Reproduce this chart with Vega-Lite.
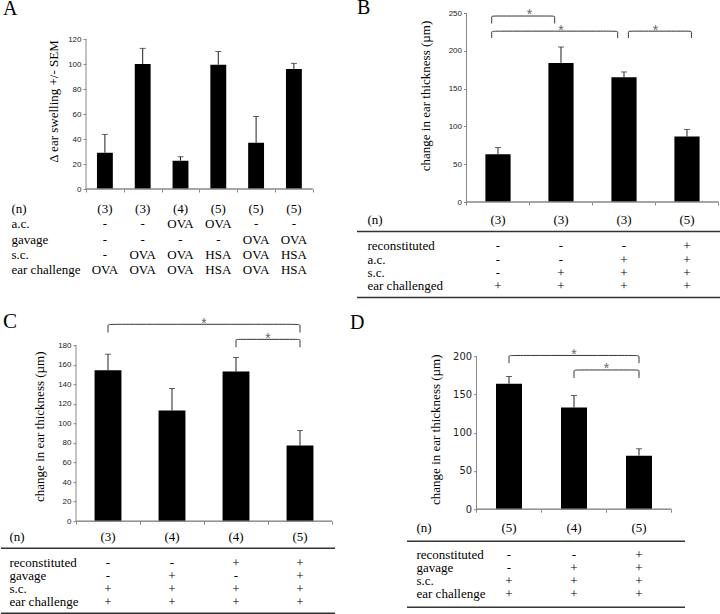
{
"$schema": "https://vega.github.io/schema/vega-lite/v6.json",
"background": "white",
"padding": {"left": 0, "top": -3.0, "right": 0, "bottom": 0},
"spacing": 4.2,
"config": {"view": {"stroke": null}, "axis": {"grid": false}, "font": "Liberation Sans"},
"datasets": {
"barsA": [{"g":"1","mean":29,"hi":43.7},{"g":"2","mean":100,"hi":112.5},{"g":"3","mean":22.6,"hi":25.8},{"g":"4","mean":99.4,"hi":110},{"g":"5","mean":37,"hi":58},{"g":"6","mean":96,"hi":100.5}],
"barsB": [{"g":"1","mean":63.3,"hi":72},{"g":"2","mean":184,"hi":205},{"g":"3","mean":165,"hi":172},{"g":"4","mean":86.5,"hi":96}],
"barsC": [{"g":"1","mean":154.4,"hi":170.8},{"g":"2","mean":113.2,"hi":135.7},{"g":"3","mean":153,"hi":167.4},{"g":"4","mean":77.4,"hi":92.7}],
"barsD": [{"g":"1","mean":164,"hi":173.5},{"g":"2","mean":133,"hi":148.7},{"g":"3","mean":70,"hi":79}],
"brB1": [{"id":1,"g":"1","y":236,"k":0},{"id":1,"g":"1","y":246,"k":1},{"id":1,"g":"1","y":246,"k":2},{"id":1,"g":"2","y":246,"k":3},{"id":1,"g":"2","y":246,"k":4},{"id":1,"g":"2","y":236,"k":5},
{"id":2,"g":"1","y":217,"k":0},{"id":2,"g":"1","y":226,"k":1},{"id":2,"g":"1","y":226,"k":2},{"id":2,"g":"3","y":226,"k":3},{"id":2,"g":"3","y":226,"k":4},{"id":2,"g":"3","y":217,"k":5}],
"brB2": [{"id":3,"g":"3","y":217,"k":0},{"id":3,"g":"3","y":226,"k":1},{"id":3,"g":"3","y":226,"k":2},{"id":3,"g":"4","y":226,"k":3},{"id":3,"g":"4","y":226,"k":4},{"id":3,"g":"4","y":217,"k":5}],
"brC": [{"id":1,"g":"1","y":193,"k":0},{"id":1,"g":"1","y":201.4,"k":1},{"id":1,"g":"1","y":201.4,"k":2},{"id":1,"g":"4","y":201.4,"k":3},{"id":1,"g":"4","y":201.4,"k":4},{"id":1,"g":"4","y":193,"k":5},
{"id":2,"g":"3","y":178,"k":0},{"id":2,"g":"3","y":186,"k":1},{"id":2,"g":"3","y":186,"k":2},{"id":2,"g":"4","y":186,"k":3},{"id":2,"g":"4","y":186,"k":4},{"id":2,"g":"4","y":178,"k":5}],
"brD": [{"id":1,"g":"1","y":191,"k":0},{"id":1,"g":"1","y":201,"k":1},{"id":1,"g":"1","y":201,"k":2},{"id":1,"g":"3","y":201,"k":3},{"id":1,"g":"3","y":201,"k":4},{"id":1,"g":"3","y":191,"k":5},
{"id":2,"g":"2","y":171.5,"k":0},{"id":2,"g":"2","y":182,"k":1},{"id":2,"g":"2","y":182,"k":2},{"id":2,"g":"3","y":182,"k":3},{"id":2,"g":"3","y":182,"k":4},{"id":2,"g":"3","y":171.5,"k":5}],
"stB": [{"g":"2","pos":"edge","y":252.5},{"g":"2","pos":"mid","y":231.5},{"g":"4","pos":"edge","y":231.5}],
"stC": [{"g":"3","pos":"edge","y":205.5},{"g":"4","pos":"edge","y":190}],
"stD": [{"g":"2","pos":"mid","y":206.5},{"g":"3","pos":"edge","y":188}],
"rules": [{"row":"gap"},{"row":"end"}],
"tabA": [
{"row":"(n)","g":"1","t":"(3)"},{"row":"(n)","g":"2","t":"(3)"},{"row":"(n)","g":"3","t":"(4)"},{"row":"(n)","g":"4","t":"(5)"},{"row":"(n)","g":"5","t":"(5)"},{"row":"(n)","g":"6","t":"(5)"},
{"row":"a.c.","g":"1","t":"-"},{"row":"a.c.","g":"2","t":"-"},{"row":"a.c.","g":"3","t":"OVA"},{"row":"a.c.","g":"4","t":"OVA"},{"row":"a.c.","g":"5","t":"-"},{"row":"a.c.","g":"6","t":"-"},
{"row":"gavage","g":"1","t":"-"},{"row":"gavage","g":"2","t":"-"},{"row":"gavage","g":"3","t":"-"},{"row":"gavage","g":"4","t":"-"},{"row":"gavage","g":"5","t":"OVA"},{"row":"gavage","g":"6","t":"OVA"},
{"row":"s.c.","g":"1","t":"-"},{"row":"s.c.","g":"2","t":"OVA"},{"row":"s.c.","g":"3","t":"OVA"},{"row":"s.c.","g":"4","t":"HSA"},{"row":"s.c.","g":"5","t":"OVA"},{"row":"s.c.","g":"6","t":"HSA"},
{"row":"ear challenge","g":"1","t":"OVA"},{"row":"ear challenge","g":"2","t":"OVA"},{"row":"ear challenge","g":"3","t":"OVA"},{"row":"ear challenge","g":"4","t":"HSA"},{"row":"ear challenge","g":"5","t":"OVA"},{"row":"ear challenge","g":"6","t":"HSA"}],
"tabB": [
{"row":"(n)","g":"1","t":"(3)"},{"row":"(n)","g":"2","t":"(3)"},{"row":"(n)","g":"3","t":"(3)"},{"row":"(n)","g":"4","t":"(5)"},
{"row":"reconstituted","g":"1","t":"-"},{"row":"reconstituted","g":"2","t":"-"},{"row":"reconstituted","g":"3","t":"-"},{"row":"reconstituted","g":"4","t":"+"},
{"row":"a.c.","g":"1","t":"-"},{"row":"a.c.","g":"2","t":"-"},{"row":"a.c.","g":"3","t":"+"},{"row":"a.c.","g":"4","t":"+"},
{"row":"s.c.","g":"1","t":"-"},{"row":"s.c.","g":"2","t":"+"},{"row":"s.c.","g":"3","t":"+"},{"row":"s.c.","g":"4","t":"+"},
{"row":"ear challenged","g":"1","t":"+"},{"row":"ear challenged","g":"2","t":"+"},{"row":"ear challenged","g":"3","t":"+"},{"row":"ear challenged","g":"4","t":"+"}],
"tabC": [
{"row":"(n)","g":"1","t":"(3)"},{"row":"(n)","g":"2","t":"(4)"},{"row":"(n)","g":"3","t":"(4)"},{"row":"(n)","g":"4","t":"(5)"},
{"row":"reconstituted","g":"1","t":"-"},{"row":"reconstituted","g":"2","t":"-"},{"row":"reconstituted","g":"3","t":"+"},{"row":"reconstituted","g":"4","t":"+"},
{"row":"gavage","g":"1","t":"-"},{"row":"gavage","g":"2","t":"+"},{"row":"gavage","g":"3","t":"-"},{"row":"gavage","g":"4","t":"+"},
{"row":"s.c.","g":"1","t":"+"},{"row":"s.c.","g":"2","t":"+"},{"row":"s.c.","g":"3","t":"+"},{"row":"s.c.","g":"4","t":"+"},
{"row":"ear challenge","g":"1","t":"+"},{"row":"ear challenge","g":"2","t":"+"},{"row":"ear challenge","g":"3","t":"+"},{"row":"ear challenge","g":"4","t":"+"}],
"tabD": [
{"row":"(n)","g":"1","t":"(5)"},{"row":"(n)","g":"2","t":"(4)"},{"row":"(n)","g":"3","t":"(5)"},
{"row":"reconstituted","g":"1","t":"-"},{"row":"reconstituted","g":"2","t":"-"},{"row":"reconstituted","g":"3","t":"+"},
{"row":"gavage","g":"1","t":"-"},{"row":"gavage","g":"2","t":"+"},{"row":"gavage","g":"3","t":"+"},
{"row":"s.c.","g":"1","t":"+"},{"row":"s.c.","g":"2","t":"+"},{"row":"s.c.","g":"3","t":"+"},
{"row":"ear challenge","g":"1","t":"+"},{"row":"ear challenge","g":"2","t":"+"},{"row":"ear challenge","g":"3","t":"+"}]
},
"vconcat": [
{"hconcat": [
 {"vconcat": [
  {"width": 320, "height": 176,
   "title": {"text": "A", "anchor": "start", "frame": "group", "font": "Liberation Serif", "fontSize": 20, "fontWeight": "normal", "color": "#000", "offset": 0, "baseline": "alphabetic", "dx": 2, "dy": 22.0},
   "layer": [
    {"data": {"name": "barsA"}, "mark": {"type": "bar", "width": {"band": 0.42}, "color": "#000"},
     "encoding": {
      "x": {"field": "g", "type": "nominal", "scale": {"type": "band", "domain": ["0","1","2","3","4","5","6"], "paddingInner": 0, "paddingOuter": 0.7328, "align": 0.852}, "axis": {"values": ["1","2","3","4","5","6"], "title": null, "labels": false, "domain": false, "ticks": true, "tickBand": "extent", "tickSize": 3, "tickColor": "#888", "grid": false}},
      "y": {"field": "mean", "type": "quantitative", "scale": {"domain": [0, 140.8], "nice": false}, "axis": {"values": [0,20,40,60,80,100,120], "tickCount": 30, "domain": false, "ticks": true, "tickSize": 3, "tickColor": "#888", "labelFont": "Liberation Sans", "labelFontSize": 8, "labelColor": "#222", "labelPadding": 2, "labelFlush": false, "labelOverlap": false, "offset": -85, "grid": false, "title": "Δ ear swelling +/- SEM", "titleFont": "Liberation Serif", "titleFontSize": 13, "titleFontWeight": "normal", "titleColor": "#000", "titleX": -33, "titleY": 88, "titleAngle": -90, "titleAlign": "center", "titleBaseline": "middle"}}}},
    {"data": {"name": "barsA"}, "mark": {"type": "rule", "color": "#222"},
     "encoding": {"x": {"field": "g", "type": "nominal", "scale": {"type": "band", "domain": ["0","1","2","3","4","5","6"], "paddingInner": 0, "paddingOuter": 0.7328, "align": 0.852}}, "y": {"field": "mean", "type": "quantitative", "scale": {"domain": [0, 140.8], "nice": false}}, "y2": {"field": "hi"}}},
    {"data": {"name": "barsA"}, "mark": {"type": "tick", "color": "#222", "size": 6, "thickness": 1},
     "encoding": {"x": {"field": "g", "type": "nominal", "scale": {"type": "band", "domain": ["0","1","2","3","4","5","6"], "paddingInner": 0, "paddingOuter": 0.7328, "align": 0.852}}, "y": {"field": "hi", "type": "quantitative", "scale": {"domain": [0, 140.8], "nice": false}}}},
    {"data": {"name": "barsA"}, "mark": {"type": "bar", "filled": false, "color": "#888", "strokeWidth": 1},
     "encoding": {"x": {"field": "g", "type": "nominal", "scale": {"type": "band", "domain": ["0","1","2","3","4","5","6"], "paddingInner": 0, "paddingOuter": 0.7328, "align": 0.852}}, "y": {"datum": 0, "type": "quantitative", "scale": {"domain": [0, 140.8], "nice": false}}, "y2": {"datum": 0}}},
    {"data": {"values": [{}]}, "mark": {"type": "rule", "color": "#888"},
     "encoding": {"x": {"datum": "1", "type": "nominal", "bandPosition": 0, "scale": {"type": "band", "domain": ["0","1","2","3","4","5","6"], "paddingInner": 0, "paddingOuter": 0.7328, "align": 0.852}}, "y": {"datum": 0, "type": "quantitative", "scale": {"domain": [0, 140.8], "nice": false}}, "y2": {"datum": 120}}}
   ]},
  {"width": 320, "height": 77, "data": {"name": "tabA"},
   "mark": {"type": "text", "font": "Liberation Serif", "fontSize": 13, "color": "#000"},
   "encoding": {
    "x": {"field": "g", "type": "nominal", "scale": {"type": "band", "domain": ["0","1","2","3","4","5","6"], "paddingInner": 0, "paddingOuter": 0.7328, "align": 0.852}, "axis": null},
    "y": {"field": "row", "type": "nominal", "scale": {"type": "band", "domain": ["(n)","a.c.","gavage","s.c.","ear challenge"], "paddingInner": 0, "paddingOuter": 0}, "axis": {"title": null, "domain": false, "ticks": false, "labelAlign": "left", "labelPadding": -10, "labelFont": "Liberation Serif", "labelFontSize": 13, "labelColor": "#000", "labelBaseline": "middle", "labelOverlap": false}},
    "text": {"field": "t"}}}
 ], "spacing": 12, "bounds": "flush"},
 {"vconcat": [
  {"width": 365, "height": 189,
   "title": {"text": "B", "anchor": "start", "frame": "group", "font": "Liberation Serif", "fontSize": 20, "fontWeight": "normal", "color": "#000", "offset": 0, "baseline": "alphabetic", "dx": 0, "dy": 25.6},
   "layer": [
    {"data": {"name": "barsB"}, "mark": {"type": "bar", "width": {"band": 0.4}, "color": "#000"},
     "encoding": {
      "x": {"field": "g", "type": "nominal", "scale": {"type": "band", "domain": ["1","2","3","4"], "paddingInner": 0, "paddingOuter": 0.8968, "align": 0.969}, "axis": {"title": null, "labels": false, "domain": false, "ticks": true, "tickBand": "extent", "tickSize": 3, "tickColor": "#888", "grid": false}},
      "y": {"field": "mean", "type": "quantitative", "scale": {"domain": [0, 250], "nice": false}, "axis": {"values": [0,50,100,150,200,250], "tickCount": 30, "domain": false, "ticks": true, "tickSize": 3, "tickColor": "#888", "labelFont": "Liberation Sans", "labelFontSize": 8, "labelColor": "#222", "labelPadding": 2, "labelFlush": false, "labelOverlap": false, "offset": -109.5, "grid": false, "title": "change in ear thickness (µm)", "titleFont": "Liberation Serif", "titleFontSize": 13, "titleFontWeight": "normal", "titleColor": "#000", "titleX": -41.5, "titleY": 82.5, "titleAngle": -90, "titleAlign": "center", "titleBaseline": "middle"}}}},
    {"data": {"name": "barsB"}, "mark": {"type": "rule", "color": "#222"},
     "encoding": {"x": {"field": "g", "type": "nominal", "scale": {"type": "band", "domain": ["1","2","3","4"], "paddingInner": 0, "paddingOuter": 0.8968, "align": 0.969}}, "y": {"field": "mean", "type": "quantitative", "scale": {"domain": [0, 250], "nice": false}}, "y2": {"field": "hi"}}},
    {"data": {"name": "barsB"}, "mark": {"type": "tick", "color": "#222", "size": 6, "thickness": 1},
     "encoding": {"x": {"field": "g", "type": "nominal", "scale": {"type": "band", "domain": ["1","2","3","4"], "paddingInner": 0, "paddingOuter": 0.8968, "align": 0.969}}, "y": {"field": "hi", "type": "quantitative", "scale": {"domain": [0, 250], "nice": false}}}},
    {"data": {"name": "barsB"}, "mark": {"type": "bar", "filled": false, "color": "#888", "strokeWidth": 1},
     "encoding": {"x": {"field": "g", "type": "nominal", "scale": {"type": "band", "domain": ["1","2","3","4"], "paddingInner": 0, "paddingOuter": 0.8968, "align": 0.969}}, "y": {"datum": 0, "type": "quantitative", "scale": {"domain": [0, 250], "nice": false}}, "y2": {"datum": 0}}},
    {"data": {"values": [{}]}, "mark": {"type": "rule", "color": "#888"},
     "encoding": {"x": {"datum": "1", "type": "nominal", "bandPosition": 0, "scale": {"type": "band", "domain": ["1","2","3","4"], "paddingInner": 0, "paddingOuter": 0.8968, "align": 0.969}}, "y": {"datum": 0, "type": "quantitative", "scale": {"domain": [0, 250], "nice": false}}, "y2": {"datum": 250}}},
    {"data": {"name": "brB1"}, "mark": {"type": "line", "interpolate": "basis", "color": "#333", "strokeWidth": 1},
     "encoding": {"x": {"field": "g", "type": "nominal", "bandPosition": 0.4, "scale": {"type": "band", "domain": ["1","2","3","4"], "paddingInner": 0, "paddingOuter": 0.8968, "align": 0.969}}, "y": {"field": "y", "type": "quantitative", "scale": {"domain": [0, 250], "nice": false}}, "detail": {"field": "id"}, "order": {"field": "k", "type": "quantitative"}}},
    {"data": {"name": "brB2"}, "mark": {"type": "line", "interpolate": "basis", "color": "#333", "strokeWidth": 1},
     "encoding": {"x": {"field": "g", "type": "nominal", "bandPosition": 0.57, "scale": {"type": "band", "domain": ["1","2","3","4"], "paddingInner": 0, "paddingOuter": 0.8968, "align": 0.969}}, "y": {"field": "y", "type": "quantitative", "scale": {"domain": [0, 250], "nice": false}}, "detail": {"field": "id"}, "order": {"field": "k", "type": "quantitative"}}},
    {"data": {"name": "stB"}, "transform": [{"filter": "datum.pos == 'mid'"}], "mark": {"type": "text", "text": "*", "font": "Liberation Sans", "fontSize": 14, "color": "#666", "baseline": "alphabetic", "dy": 8},
     "encoding": {"x": {"field": "g", "type": "nominal", "bandPosition": 0.5, "scale": {"type": "band", "domain": ["1","2","3","4"], "paddingInner": 0, "paddingOuter": 0.8968, "align": 0.969}}, "y": {"field": "y", "type": "quantitative", "scale": {"domain": [0, 250], "nice": false}}}},
    {"data": {"name": "stB"}, "transform": [{"filter": "datum.pos == 'edge'"}], "mark": {"type": "text", "text": "*", "font": "Liberation Sans", "fontSize": 14, "color": "#666", "baseline": "alphabetic", "dy": 8},
     "encoding": {"x": {"field": "g", "type": "nominal", "bandPosition": 0, "scale": {"type": "band", "domain": ["1","2","3","4"], "paddingInner": 0, "paddingOuter": 0.8968, "align": 0.969}}, "y": {"field": "y", "type": "quantitative", "scale": {"domain": [0, 250], "nice": false}}}}
   ]},
  {"width": 365, "height": 92.4,
   "layer": [
    {"data": {"name": "tabB"}, "mark": {"type": "text", "font": "Liberation Serif", "fontSize": 13, "color": "#000"},
     "encoding": {
      "x": {"field": "g", "type": "nominal", "scale": {"type": "band", "domain": ["1","2","3","4"], "paddingInner": 0, "paddingOuter": 0.8968, "align": 0.969}, "axis": null},
      "y": {"field": "row", "type": "nominal", "scale": {"type": "band", "domain": ["(n)","gap","reconstituted","a.c.","s.c.","ear challenged","end"], "paddingInner": 0, "paddingOuter": 0}, "axis": {"title": null, "domain": false, "ticks": false, "labelAlign": "left", "labelPadding": -10, "labelFont": "Liberation Serif", "labelFontSize": 13, "labelColor": "#000", "labelBaseline": "middle", "labelOverlap": false, "labelExpr": "datum.value == 'gap' || datum.value == 'end' ? '' : datum.value"}},
      "text": {"field": "t"}}},
    {"data": {"name": "rules"}, "mark": {"type": "rule", "color": "#333", "strokeWidth": 1.5},
     "encoding": {"y": {"field": "row", "type": "nominal", "bandPosition": 0.37, "scale": {"type": "band", "domain": ["(n)","gap","reconstituted","a.c.","s.c.","ear challenged","end"], "paddingInner": 0, "paddingOuter": 0}}}}
   ]}
 ], "spacing": 11.4, "bounds": "flush"}
], "spacing": 35},
{"hconcat": [
 {"vconcat": [
  {"width": 334, "height": 176,
   "title": {"text": "C", "anchor": "start", "frame": "group", "font": "Liberation Serif", "fontSize": 21, "fontWeight": "normal", "color": "#000", "offset": 0, "baseline": "alphabetic", "dx": 2, "dy": 31.9},
   "layer": [
    {"data": {"name": "barsC"}, "mark": {"type": "bar", "width": {"band": 0.42}, "color": "#000"},
     "encoding": {
      "x": {"field": "g", "type": "nominal", "scale": {"type": "band", "domain": ["1","2","3","4"], "paddingInner": 0, "paddingOuter": 0.6094, "align": 0.9615}, "axis": {"title": null, "labels": false, "domain": false, "ticks": true, "tickBand": "extent", "tickSize": 3, "tickColor": "#888", "grid": false}},
      "y": {"field": "mean", "type": "quantitative", "scale": {"domain": [0, 180], "nice": false}, "axis": {"values": [0,20,40,60,80,100,120,140,160,180], "tickCount": 30, "domain": false, "ticks": true, "tickSize": 3, "tickColor": "#888", "labelFont": "Liberation Sans", "labelFontSize": 8, "labelColor": "#222", "labelPadding": 2, "labelFlush": false, "labelOverlap": false, "offset": -75, "grid": false, "title": "change in ear thickness (µm)", "titleFont": "Liberation Serif", "titleFontSize": 13, "titleFontWeight": "normal", "titleColor": "#000", "titleX": -37, "titleY": 81, "titleAngle": -90, "titleAlign": "center", "titleBaseline": "middle"}}}},
    {"data": {"name": "barsC"}, "mark": {"type": "rule", "color": "#222"},
     "encoding": {"x": {"field": "g", "type": "nominal", "scale": {"type": "band", "domain": ["1","2","3","4"], "paddingInner": 0, "paddingOuter": 0.6094, "align": 0.9615}}, "y": {"field": "mean", "type": "quantitative", "scale": {"domain": [0, 180], "nice": false}}, "y2": {"field": "hi"}}},
    {"data": {"name": "barsC"}, "mark": {"type": "tick", "color": "#222", "size": 6, "thickness": 1},
     "encoding": {"x": {"field": "g", "type": "nominal", "scale": {"type": "band", "domain": ["1","2","3","4"], "paddingInner": 0, "paddingOuter": 0.6094, "align": 0.9615}}, "y": {"field": "hi", "type": "quantitative", "scale": {"domain": [0, 180], "nice": false}}}},
    {"data": {"name": "barsC"}, "mark": {"type": "bar", "filled": false, "color": "#888", "strokeWidth": 1},
     "encoding": {"x": {"field": "g", "type": "nominal", "scale": {"type": "band", "domain": ["1","2","3","4"], "paddingInner": 0, "paddingOuter": 0.6094, "align": 0.9615}}, "y": {"datum": 0, "type": "quantitative", "scale": {"domain": [0, 180], "nice": false}}, "y2": {"datum": 0}}},
    {"data": {"values": [{}]}, "mark": {"type": "rule", "color": "#888"},
     "encoding": {"x": {"datum": "1", "type": "nominal", "bandPosition": 0, "scale": {"type": "band", "domain": ["1","2","3","4"], "paddingInner": 0, "paddingOuter": 0.6094, "align": 0.9615}}, "y": {"datum": 0, "type": "quantitative", "scale": {"domain": [0, 180], "nice": false}}, "y2": {"datum": 180}}},
    {"data": {"name": "brC"}, "mark": {"type": "line", "interpolate": "basis", "color": "#333", "strokeWidth": 1},
     "encoding": {"x": {"field": "g", "type": "nominal", "bandPosition": 0.5, "scale": {"type": "band", "domain": ["1","2","3","4"], "paddingInner": 0, "paddingOuter": 0.6094, "align": 0.9615}}, "y": {"field": "y", "type": "quantitative", "scale": {"domain": [0, 180], "nice": false}}, "detail": {"field": "id"}, "order": {"field": "k", "type": "quantitative"}}},
    {"data": {"name": "stC"}, "mark": {"type": "text", "text": "*", "font": "Liberation Sans", "fontSize": 14, "color": "#666", "baseline": "alphabetic", "dy": 8},
     "encoding": {"x": {"field": "g", "type": "nominal", "bandPosition": 0, "scale": {"type": "band", "domain": ["1","2","3","4"], "paddingInner": 0, "paddingOuter": 0.6094, "align": 0.9615}}, "y": {"field": "y", "type": "quantitative", "scale": {"domain": [0, 180], "nice": false}}}}
   ]},
  {"width": 334, "height": 91,
   "layer": [
    {"data": {"name": "tabC"}, "mark": {"type": "text", "font": "Liberation Serif", "fontSize": 13, "color": "#000"},
     "encoding": {
      "x": {"field": "g", "type": "nominal", "scale": {"type": "band", "domain": ["1","2","3","4"], "paddingInner": 0, "paddingOuter": 0.6094, "align": 0.9615}, "axis": null},
      "y": {"field": "row", "type": "nominal", "scale": {"type": "band", "domain": ["(n)","gap","reconstituted","gavage","s.c.","ear challenge","end"], "paddingInner": 0, "paddingOuter": 0}, "axis": {"title": null, "domain": false, "ticks": false, "labelAlign": "left", "labelPadding": -8, "labelFont": "Liberation Serif", "labelFontSize": 13, "labelColor": "#000", "labelBaseline": "middle", "labelOverlap": false, "labelExpr": "datum.value == 'gap' || datum.value == 'end' ? '' : datum.value"}},
      "text": {"field": "t"}}},
    {"data": {"name": "rules"}, "mark": {"type": "rule", "color": "#333", "strokeWidth": 1.5},
     "encoding": {"y": {"field": "row", "type": "nominal", "bandPosition": 0.35, "scale": {"type": "band", "domain": ["(n)","gap","reconstituted","gavage","s.c.","ear challenge","end"], "paddingInner": 0, "paddingOuter": 0}}}}
   ]}
 ], "spacing": 9.5, "bounds": "flush"},
 {"vconcat": [
  {"width": 278, "height": 164,
   "title": {"text": "D", "anchor": "start", "frame": "group", "font": "Liberation Serif", "fontSize": 20, "fontWeight": "normal", "color": "#000", "offset": 0, "baseline": "alphabetic", "dx": -57, "dy": 4},
   "layer": [
    {"data": {"name": "barsD"}, "mark": {"type": "bar", "width": {"band": 0.4}, "color": "#000"},
     "encoding": {
      "x": {"field": "g", "type": "nominal", "scale": {"type": "band", "domain": ["1","2","3"], "paddingInner": 0, "paddingOuter": 0.6385, "align": 0.8373}, "axis": {"title": null, "labels": false, "domain": false, "ticks": true, "tickBand": "extent", "tickSize": 3, "tickColor": "#888", "grid": false}},
      "y": {"field": "mean", "type": "quantitative", "scale": {"domain": [0, 214.4], "nice": false}, "axis": {"values": [0,50,100,150,200], "tickCount": 30, "domain": false, "ticks": true, "tickSize": 3, "tickColor": "#888", "labelFont": "Liberation Sans Narrow, DejaVu Sans Condensed, sans-serif", "labelFontSize": 11, "labelColor": "#222", "labelPadding": 2, "labelFlush": false, "labelOverlap": false, "offset": -69.5, "grid": false, "title": "change in ear thickness (µm)", "titleFont": "Liberation Serif", "titleFontSize": 13, "titleFontWeight": "normal", "titleColor": "#000", "titleX": -41.5, "titleY": 84, "titleAngle": -90, "titleAlign": "center", "titleBaseline": "middle"}}}},
    {"data": {"name": "barsD"}, "mark": {"type": "rule", "color": "#222"},
     "encoding": {"x": {"field": "g", "type": "nominal", "scale": {"type": "band", "domain": ["1","2","3"], "paddingInner": 0, "paddingOuter": 0.6385, "align": 0.8373}}, "y": {"field": "mean", "type": "quantitative", "scale": {"domain": [0, 214.4], "nice": false}}, "y2": {"field": "hi"}}},
    {"data": {"name": "barsD"}, "mark": {"type": "tick", "color": "#222", "size": 6, "thickness": 1},
     "encoding": {"x": {"field": "g", "type": "nominal", "scale": {"type": "band", "domain": ["1","2","3"], "paddingInner": 0, "paddingOuter": 0.6385, "align": 0.8373}}, "y": {"field": "hi", "type": "quantitative", "scale": {"domain": [0, 214.4], "nice": false}}}},
    {"data": {"name": "barsD"}, "mark": {"type": "bar", "filled": false, "color": "#888", "strokeWidth": 1},
     "encoding": {"x": {"field": "g", "type": "nominal", "scale": {"type": "band", "domain": ["1","2","3"], "paddingInner": 0, "paddingOuter": 0.6385, "align": 0.8373}}, "y": {"datum": 0, "type": "quantitative", "scale": {"domain": [0, 214.4], "nice": false}}, "y2": {"datum": 0}}},
    {"data": {"values": [{}]}, "mark": {"type": "rule", "color": "#888"},
     "encoding": {"x": {"datum": "1", "type": "nominal", "bandPosition": 0, "scale": {"type": "band", "domain": ["1","2","3"], "paddingInner": 0, "paddingOuter": 0.6385, "align": 0.8373}}, "y": {"datum": 0, "type": "quantitative", "scale": {"domain": [0, 214.4], "nice": false}}, "y2": {"datum": 200}}},
    {"data": {"name": "brD"}, "mark": {"type": "line", "interpolate": "basis", "color": "#333", "strokeWidth": 1},
     "encoding": {"x": {"field": "g", "type": "nominal", "bandPosition": 0.5, "scale": {"type": "band", "domain": ["1","2","3"], "paddingInner": 0, "paddingOuter": 0.6385, "align": 0.8373}}, "y": {"field": "y", "type": "quantitative", "scale": {"domain": [0, 214.4], "nice": false}}, "detail": {"field": "id"}, "order": {"field": "k", "type": "quantitative"}}},
    {"data": {"name": "stD"}, "transform": [{"filter": "datum.pos == 'mid'"}], "mark": {"type": "text", "text": "*", "font": "Liberation Sans", "fontSize": 14, "color": "#666", "baseline": "alphabetic", "dy": 8},
     "encoding": {"x": {"field": "g", "type": "nominal", "bandPosition": 0.5, "scale": {"type": "band", "domain": ["1","2","3"], "paddingInner": 0, "paddingOuter": 0.6385, "align": 0.8373}}, "y": {"field": "y", "type": "quantitative", "scale": {"domain": [0, 214.4], "nice": false}}}},
    {"data": {"name": "stD"}, "transform": [{"filter": "datum.pos == 'edge'"}], "mark": {"type": "text", "text": "*", "font": "Liberation Sans", "fontSize": 14, "color": "#666", "baseline": "alphabetic", "dy": 8},
     "encoding": {"x": {"field": "g", "type": "nominal", "bandPosition": 0, "scale": {"type": "band", "domain": ["1","2","3"], "paddingInner": 0, "paddingOuter": 0.6385, "align": 0.8373}}, "y": {"field": "y", "type": "quantitative", "scale": {"domain": [0, 214.4], "nice": false}}}}
   ]},
  {"width": 278, "height": 92.4,
   "layer": [
    {"data": {"name": "tabD"}, "mark": {"type": "text", "font": "Liberation Serif", "fontSize": 13, "color": "#000"},
     "encoding": {
      "x": {"field": "g", "type": "nominal", "scale": {"type": "band", "domain": ["1","2","3"], "paddingInner": 0, "paddingOuter": 0.6385, "align": 0.8373}, "axis": null},
      "y": {"field": "row", "type": "nominal", "scale": {"type": "band", "domain": ["(n)","gap","reconstituted","gavage","s.c.","ear challenge","end"], "paddingInner": 0, "paddingOuter": 0}, "axis": {"title": null, "domain": false, "ticks": false, "labelAlign": "left", "labelPadding": -9, "labelFont": "Liberation Serif", "labelFontSize": 13, "labelColor": "#000", "labelBaseline": "middle", "labelOverlap": false, "labelExpr": "datum.value == 'gap' || datum.value == 'end' ? '' : datum.value"}},
      "text": {"field": "t"}}},
    {"data": {"name": "rules"}, "mark": {"type": "rule", "color": "#333", "strokeWidth": 1.5},
     "encoding": {"y": {"field": "row", "type": "nominal", "bandPosition": 0.48, "scale": {"type": "band", "domain": ["(n)","gap","reconstituted","gavage","s.c.","ear challenge","end"], "paddingInner": 0, "paddingOuter": 0}}}}
   ]}
 ], "spacing": 12.4, "bounds": "flush"}
], "spacing": 14}
]
}
